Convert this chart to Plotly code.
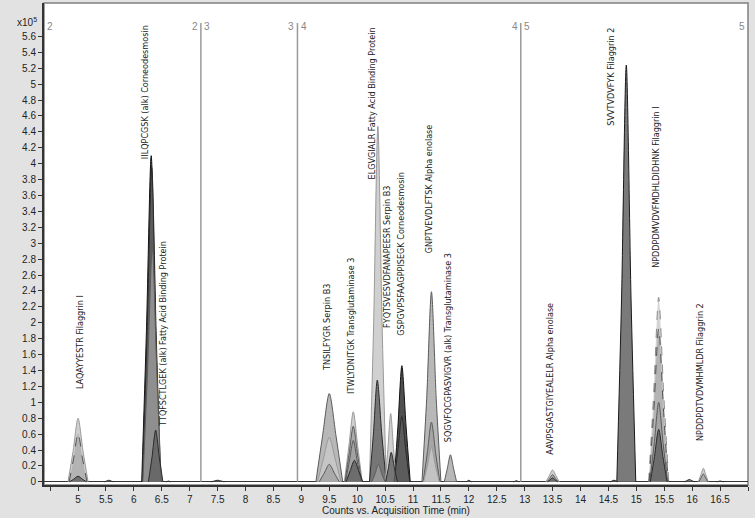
import plotly.graph_objects as go

# retention time (min) and counts (x10^5)
# each peak: start, apex, end time and counts half way up the flanks and at apex
peak_start = [4.82, 4.84, 4.85, 5.47, 6.14, 6.15, 6.16, 6.26, 6.58, 7.38,
              9.26, 9.29, 9.32, 9.77, 9.78, 9.79, 9.80, 10.22, 10.22, 10.26,
              10.50, 10.51, 10.66, 10.66, 11.16, 11.18, 11.19, 11.56, 11.95, 12.80,
              13.38, 13.40, 13.41, 14.53, 14.65, 15.22, 15.23, 15.24, 15.25, 15.86,
              16.11, 16.12, 16.44]
peak_apex = [5.00, 5.00, 5.00, 5.55, 6.31, 6.32, 6.33, 6.39, 6.62, 7.50,
             9.50, 9.50, 9.50, 9.93, 9.93, 9.93, 9.95, 10.37, 10.36, 10.38,
             10.60, 10.61, 10.80, 10.80, 11.33, 11.33, 11.33, 11.67, 12.00, 12.85,
             13.50, 13.50, 13.50, 14.60, 14.82, 15.40, 15.40, 15.40, 15.40, 15.95,
             16.20, 16.20, 16.50]
peak_end = [5.18, 5.16, 5.15, 5.63, 6.47, 6.48, 6.49, 6.52, 6.66, 7.62,
            9.74, 9.71, 9.68, 10.09, 10.08, 10.07, 10.10, 10.52, 10.52, 10.50,
            10.70, 10.72, 10.95, 10.94, 11.50, 11.48, 11.47, 11.78, 12.05, 12.90,
            13.62, 13.60, 13.59, 14.67, 14.99, 15.58, 15.57, 15.56, 15.55, 16.04,
            16.29, 16.28, 16.56]
peak_top = [0.80, 0.61, 0.07, 0.02, 4.10, 3.95, 2.95, 0.65, 0.01, 0.02,
            1.11, 0.56, 0.22, 0.88, 0.70, 0.52, 0.27, 4.47, 1.28, 0.22,
            0.86, 0.37, 1.46, 0.82, 2.39, 0.75, 0.44, 0.34, 0.02, 0.015,
            0.15, 0.09, 0.05, 0.02, 5.24, 2.32, 1.93, 1.00, 0.66, 0.03,
            0.17, 0.10, 0.01]
peak_mid = [0.38, 0.29, 0.035, 0.01, 1.90, 1.85, 1.40, 0.31, 0.005, 0.01,
            0.58, 0.29, 0.11, 0.44, 0.35, 0.26, 0.14, 2.00, 0.60, 0.10,
            0.42, 0.18, 0.70, 0.40, 1.05, 0.36, 0.21, 0.17, 0.01, 0.007,
            0.075, 0.045, 0.025, 0.01, 2.30, 1.10, 0.92, 0.48, 0.32, 0.015,
            0.085, 0.05, 0.005]

# fill / outline grey per peak (style, not data)
shade = ['l', 'md', 'd', 'd', 'k', 'd', 'm', 'd', 'd', 'd',
         'm', 'l', 'm', 'l', 'm', 'm', 'd', 'l', 'd', 'm',
         'l', 'd', 'k', 'd', 'm', 'm', 'l', 'm', 'd', 'd',
         'l', 'm', 'd', 'd', 'g', 'ld', 'md', 'm', 'd', 'd',
         'l', 'm', 'd']
styles = {
    'l': ('rgba(200,200,200,0.85)', '#9a9a9a', 'solid'),
    'ld': ('rgba(205,205,205,0.85)', '#8a8a8a', 'dash'),
    'm': ('rgba(160,160,160,0.75)', '#5a5a5a', 'solid'),
    'md': ('rgba(170,170,170,0.75)', '#505050', 'dash'),
    'd': ('rgba(95,95,95,0.8)', '#2a2a2a', 'solid'),
    'k': ('rgba(60,60,60,0.9)', '#111111', 'solid'),
    'g': ('rgba(115,115,115,0.95)', '#1a1a1a', 'solid'),
}

seg_lines = [7.2, 8.93, 12.93]

labels = ['LAQAYYESTR Filaggrin I',
          'IILQPCGSK (alk) Corneodesmosin',
          'TTQFSCTLGEK (alk) Fatty Acid Binding Protein',
          'TNSILFYGR Serpin B3',
          'ITWLYDNITGK Transglutaminase 3',
          'ELGVGIALR Fatty Acid Binding Protein',
          'FYQTSVESVDFANAPEESR Serpin B3',
          'GSPGVPSFAAGPPISEGK Corneodesmosin',
          'GNPTVEVDLFTSK Alpha enolase',
          'SQGVFQCGPASVIGVR (alk) Transglutaminase 3',
          'AAVPSGASTGIYEALELR Alpha enolase',
          'SVVTVDVFYK Filaggrin 2',
          'NPDDPDMVDVFMDHLDIDHNK Filaggrin I',
          'NPDDPDTVDVMHMLDR Filaggrin 2']
label_x = [5.04, 6.20, 6.52, 9.45, 9.89, 10.27, 10.52, 10.77, 11.29, 11.64,
           13.46, 14.54, 15.34, 16.14]
label_y = [1.76, 4.90, 1.86, 1.94, 1.96, 4.76, 2.83, 2.87, 3.68, 1.69,
           1.30, 5.09, 3.70, 1.38]

yticks = [round(i * 0.2, 1) for i in range(29)]
xticks = [5 + i * 0.5 for i in range(24)]

fig = go.Figure()

# baseline
fig.add_trace(go.Scatter(x=[4.39, 17.0], y=[0.004, 0.004], mode='lines',
                         line=dict(color='#333', width=1), hoverinfo='skip'))

order = sorted(range(len(peak_top)), key=lambda i: -peak_top[i])
for i in order:
    fc, lc, dash = styles[shade[i]]
    xs = [peak_start[i], (peak_start[i] + peak_apex[i]) / 2, peak_apex[i],
          (peak_apex[i] + peak_end[i]) / 2, peak_end[i]]
    ys = [0, peak_mid[i], peak_top[i], peak_mid[i], 0]
    fig.add_trace(go.Scatter(x=xs, y=ys, mode='lines', fill='toself',
                             fillcolor=fc,
                             line=dict(color=lc, width=1, dash=dash,
                                       shape='spline', smoothing=0.8),
                             hoverinfo='skip'))

for xv in seg_lines:
    fig.add_shape(type='line', x0=xv, x1=xv, y0=0, y1=5.77,
                  line=dict(color='#9a9a9a', width=1.5))

seg_font = dict(family='Liberation Sans, Arial', size=10, color='#888')
seg_tags = [(4.41, '2', 'left'), (7.18, '2', 'right'), (7.22, '3', 'left'),
            (8.91, '3', 'right'), (8.95, '4', 'left'), (12.91, '4', 'right'),
            (12.95, '5', 'left'), (16.98, '5', 'right')]
for xv, t, anc in seg_tags:
    fig.add_annotation(x=xv, y=5.72, text=t, showarrow=False, xanchor=anc,
                       font=seg_font)

lab_font = dict(family='DejaVu Sans Condensed, Liberation Sans Narrow, Arial Narrow, Arial',
                size=9, color='#222')
for t, xv, yv in zip(labels, label_x, label_y):
    fig.add_annotation(x=xv, y=yv, text=t, textangle=-90, showarrow=False,
                       font=lab_font)

fig.add_annotation(x=-0.041, y=0.977, xref='paper', yref='paper',
                   text='x10<sup>5</sup>', showarrow=False, xanchor='left',
                   font=dict(family='Liberation Sans, Arial', size=10, color='#222'))

fig.add_shape(type='rect', xref='paper', yref='paper', x0=0, x1=1, y0=0, y1=1,
              line=dict(color='#808080', width=1.5), layer='below')

fig.update_layout(
    width=755, height=518,
    margin=dict(l=44, r=7, t=3, b=33),
    paper_bgcolor='#e2e2e2',
    plot_bgcolor='white',
    showlegend=False,
    font=dict(family='Liberation Sans, Arial', size=10, color='#222'),
    xaxis=dict(range=[4.39, 17.0], tickvals=xticks,
               ticktext=['%g' % v for v in xticks],
               ticks='outside', ticklen=4, tickcolor='#333',
               minor=dict(tickvals=[4.5, 17.0], ticks='outside', ticklen=4,
                          tickcolor='#333'),
               showline=True, linecolor='#333', linewidth=2,
               showgrid=False, zeroline=False,
               title=dict(text='Counts vs. Acquisition Time (min)', standoff=2,
                          font=dict(size=10))),
    yaxis=dict(range=[-0.04, 6.02], tickvals=yticks,
               ticktext=['%g' % v for v in yticks],
               ticks='outside', ticklen=4, tickcolor='#333',
               showline=True, linecolor='#333', linewidth=2,
               showgrid=False, zeroline=False),
)

fig.write_html("out.html", config={'displayModeBar': False},
               post_script="document.body.style.margin='0';")
